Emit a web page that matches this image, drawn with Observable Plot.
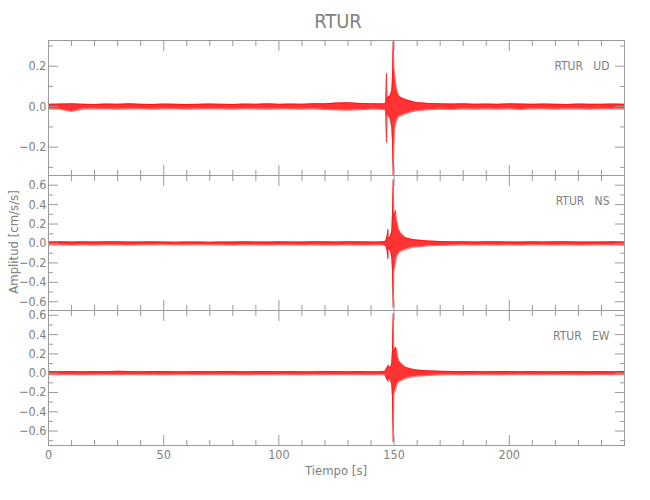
<!DOCTYPE html>
<html>
<head>
<meta charset="utf-8">
<script src="https://cdn.jsdelivr.net/npm/d3@7"></script>
<script src="https://cdn.jsdelivr.net/npm/@observablehq/plot@0.6"></script>
<style>
  body { margin: 0; background: #fff; }
  #chart { position: relative; width: 650px; height: 500px; background: #fff; overflow: hidden;
    font-family: "Liberation Sans Narrow", "DejaVu Sans Condensed", "Roboto", sans-serif; color: #808080; }
  #chart svg { position: absolute; left: 0; overflow: visible; }
  #title { position: absolute; top: 9px; left: 0; width: 676px; text-align: center; font-size: 20px; }
  #xlabel { position: absolute; top: 463px; left: 0; width: 672px; text-align: center; font-size: 13px; }
  #ylabel { position: absolute; left: 13px; top: 242px; transform: translate(-50%, -50%) rotate(-90deg);
    white-space: nowrap; font-size: 13px; }
</style>
</head>
<body>
<div id="chart">
  <div id="title"></div>
  <div id="ylabel"></div>
  <div id="xlabel"></div>
</div>
<script>
// ---- Data (envelope of each trace) ----
const station = "RTUR";
const title = "RTUR";
const xLabel = "Tiempo [s]";
const yLabel = "Amplitud [cm/s/s]";
const components = ["UD", "NS", "EW"];

// time samples (s)
const times = [0,5,10,15,20,25,30,35,40,45,50,55,60,65,70,75,80,85,90,95,100,105,110,115,120,125,130,135,140,
  143,145,146,146.4,146.7,147.0,147.3,147.6,148.0,148.5,149.0,149.3,149.6,149.9,150.2,150.6,151.0,151.5,152.0,153.0,154.0,155.0,156.5,158.0,160.0,162.5,
  165,170,175,180,185,190,195,200,205,210,215,220,225,230,235,240,245,250];

// UD component: upper / lower envelope (cm/s/s)
const udHi = [.012,.013,.014,.012,.011,.013,.012,.014,.012,.011,.013,.012,.011,.012,.013,.012,.011,.013,.012,.014,.012,.013,.012,.015,.014,.018,.020,.016,.015,
  .014,.014,.015,.02,.165,.04,.045,.05,.05,.06,.08,.14,.326,.20,.16,.13,.09,.07,.055,.045,.04,.035,.03,.025,.02,.018,
  .016,.014,.013,.014,.012,.013,.012,.014,.013,.012,.013,.012,.011,.013,.012,.012,.013,.012];
const udLo = [-.011,-.013,-.024,-.012,-.012,-.011,-.013,-.012,-.011,-.013,-.012,-.011,-.013,-.012,-.011,-.012,-.013,-.011,-.012,-.013,-.012,-.011,-.013,-.012,-.014,-.016,-.018,-.015,-.013,
  -.013,-.014,-.015,-.02,-.176,-.045,-.04,-.05,-.05,-.07,-.10,-.17,-.34,-.20,-.12,-.09,-.07,-.06,-.05,-.045,-.04,-.035,-.03,-.025,-.02,-.018,
  -.015,-.013,-.014,-.012,-.013,-.012,-.013,-.012,-.014,-.012,-.011,-.013,-.012,-.012,-.013,-.011,-.012,-.012];

// NS component
const nsHi = [.016,.018,.015,.017,.016,.018,.017,.015,.016,.017,.015,.014,.016,.015,.014,.016,.015,.017,.016,.015,.017,.016,.015,.018,.017,.016,.018,.017,.016,
  .016,.017,.02,.03,.05,.08,.15,.07,.06,.08,.12,.30,.66,.30,.30,.34,.25,.20,.14,.10,.08,.06,.05,.04,.035,.03,
  .025,.02,.018,.017,.016,.018,.017,.016,.015,.017,.016,.018,.017,.016,.015,.016,.017,.016];
const nsLo = [-.016,-.015,-.017,-.016,-.018,-.015,-.016,-.017,-.015,-.016,-.014,-.015,-.016,-.014,-.015,-.016,-.017,-.015,-.016,-.017,-.015,-.016,-.017,-.016,-.018,-.017,-.016,-.018,-.017,
  -.016,-.017,-.02,-.03,-.05,-.08,-.16,-.08,-.07,-.08,-.14,-.28,-.66,-.28,-.26,-.20,-.15,-.12,-.10,-.08,-.07,-.06,-.05,-.04,-.035,-.03,
  -.024,-.02,-.018,-.016,-.017,-.016,-.018,-.016,-.017,-.015,-.016,-.017,-.016,-.018,-.016,-.015,-.016,-.017];

// EW component
const ewHi = [.017,.016,.018,.015,.017,.016,.019,.017,.016,.018,.017,.016,.015,.017,.016,.018,.017,.016,.018,.017,.016,.017,.015,.016,.018,.017,.016,.017,.016,
  .016,.017,.02,.03,.05,.06,.07,.085,.06,.06,.10,.25,.62,.22,.24,.27,.26,.18,.13,.10,.08,.06,.05,.04,.032,.028,
  .024,.02,.018,.017,.018,.016,.017,.018,.016,.017,.015,.016,.018,.017,.016,.017,.016,.017];
const ewLo = [-.016,-.017,-.015,-.018,-.016,-.017,-.016,-.015,-.017,-.016,-.018,-.016,-.017,-.015,-.016,-.017,-.016,-.018,-.016,-.015,-.017,-.016,-.018,-.017,-.016,-.015,-.017,-.016,-.018,
  -.016,-.017,-.02,-.035,-.06,-.07,-.08,-.09,-.06,-.07,-.12,-.25,-.715,-.22,-.20,-.18,-.14,-.11,-.09,-.08,-.065,-.055,-.045,-.04,-.032,-.028,
  -.023,-.019,-.017,-.018,-.016,-.017,-.018,-.016,-.017,-.015,-.017,-.016,-.017,-.018,-.016,-.015,-.017,-.016];

// axis domains and ticks
const xDomain = [0, 250];
const xMajor = [0, 50, 100, 150, 200];
const xMinor = [10,20,30,40,60,70,80,90,110,120,130,140,160,170,180,190,210,220,230,240];
const udDomain = [-0.34, 0.327];
const nsDomain = [-0.69, 0.70];
const ewDomain = [-0.75, 0.65];
const udMajor = [-0.2, 0, 0.2];
const udMinor = [-0.3, -0.1, 0.1, 0.3];
const nsMajor = [-0.6, -0.4, -0.2, 0, 0.2, 0.4, 0.6];
const nsMinor = [-0.5, -0.3, -0.1, 0.1, 0.3, 0.5];
const ewMajor = [-0.6, -0.4, -0.2, 0, 0.2, 0.4, 0.6];
const ewMinor = [-0.7, -0.5, -0.3, -0.1, 0.1, 0.3, 0.5];

// ---- Drawing ----
const grey = "#9a9a9a";
const txt = "#808080";
const fontFamily = '"Liberation Sans Narrow", "DejaVu Sans Condensed", "Roboto", sans-serif';
const none = () => "";
const fmt = d3.format(".1f");

function panel(comp, hi, lo, yDomain, yMajor, yMinor, isBottom) {
  const rows = times.map((t, i) => ({t, hi: hi[i], lo: lo[i]}));
  const marks = [
    Plot.areaY(rows, {x: "t", y1: "lo", y2: "hi", fill: "#ff0000", fillOpacity: 0.8}),
    Plot.line(rows, {x: "t", y: "hi", stroke: "#ff0000", strokeWidth: 0.6}),
    Plot.line(rows, {x: "t", y: "lo", stroke: "#ff0000", strokeWidth: 0.6}),
    Plot.frame({stroke: grey}),
    Plot.axisX({anchor: "bottom", ticks: xMajor, tickSize: -10, tickFormat: none, label: null, stroke: grey}),
    Plot.axisX({anchor: "bottom", ticks: xMinor, tickSize: -5, tickFormat: none, label: null, stroke: grey}),
    Plot.axisX({anchor: "top", ticks: xMajor, tickSize: -10, tickFormat: none, label: null, stroke: grey}),
    Plot.axisX({anchor: "top", ticks: xMinor, tickSize: -5, tickFormat: none, label: null, stroke: grey}),
    Plot.axisY({anchor: "left", ticks: yMajor, tickSize: -10, tickFormat: none, label: null, stroke: grey}),
    Plot.axisY({anchor: "left", ticks: yMinor, tickSize: -5, tickFormat: none, label: null, stroke: grey}),
    Plot.axisY({anchor: "right", ticks: yMajor, tickSize: -10, tickFormat: none, label: null, stroke: grey}),
    Plot.axisY({anchor: "right", ticks: yMinor, tickSize: -5, tickFormat: none, label: null, stroke: grey}),
    Plot.axisY({anchor: "left", ticks: yMajor, tickSize: 0, tickPadding: 2, tickFormat: fmt, label: null, fill: txt}),
    Plot.text([station + "\u00a0\u00a0\u00a0" + comp], {frameAnchor: "top-right", text: d => d, dx: -15, dy: 21,
      textAnchor: "end", fill: txt, fontSize: 12})
  ];
  if (isBottom) {
    marks.push(Plot.axisX({anchor: "bottom", ticks: xMajor, tickSize: 0, tickPadding: 5, tickFormat: d => String(d), label: null, fill: txt}));
  }
  return Plot.plot({
    width: 650,
    height: isBottom ? 185 : 135,
    marginLeft: 48,
    marginRight: 26,
    marginTop: 0,
    marginBottom: isBottom ? 50 : 0,
    x: {domain: xDomain},
    y: {domain: yDomain, nice: false},
    style: {overflow: "visible", background: "transparent", fontFamily, fontSize: "12.5px", color: txt},
    marks
  });
}

const chart = document.getElementById("chart");
document.getElementById("title").textContent = title;
document.getElementById("xlabel").textContent = xLabel;
document.getElementById("ylabel").textContent = yLabel;

const panels = [
  [components[0], udHi, udLo, udDomain, udMajor, udMinor, false, 40],
  [components[1], nsHi, nsLo, nsDomain, nsMajor, nsMinor, false, 175],
  [components[2], ewHi, ewLo, ewDomain, ewMajor, ewMinor, true, 310]
];
for (const [comp, hi, lo, dom, maj, min, bottom, top] of panels) {
  const svg = panel(comp, hi, lo, dom, maj, min, bottom);
  svg.style.top = top + "px";
  chart.appendChild(svg);
}
</script>
</body>
</html>
